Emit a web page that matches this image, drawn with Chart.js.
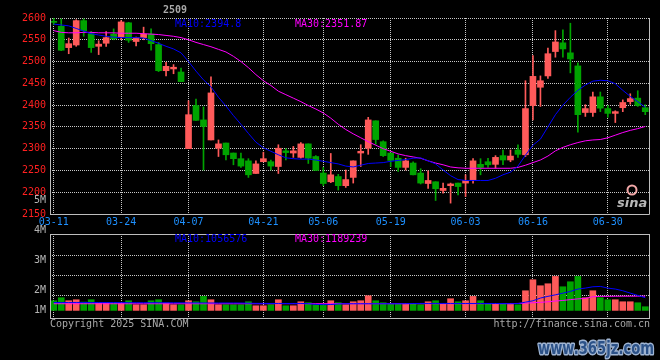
<!DOCTYPE html>
<html>
<head>
<meta charset="utf-8">
<script src="https://cdn.jsdelivr.net/npm/chart.js@4.4.0/dist/chart.umd.min.js"></script>
<style>
  html, body { margin: 0; padding: 0; background: #000; }
  #wrap { position: relative; width: 660px; height: 360px; }
  #wrap canvas { position: absolute; left: 0; top: 0; }
</style>
</head>
<body>
<div id="wrap">
  <canvas id="kChart" width="660" height="360"></canvas>
  <canvas id="volChart" width="660" height="360"></canvas>
</div>
<script>
// trading days 2025-03-11 .. 2025-07-07
const DATES = [
  '03-11','03-12','03-13','03-14','03-17','03-18','03-19','03-20','03-21','03-24',
  '03-25','03-26','03-27','03-28','03-31','04-01','04-02','04-03','04-07','04-08',
  '04-09','04-10','04-11','04-14','04-15','04-16','04-17','04-18','04-21','04-22',
  '04-23','04-24','04-25','04-28','04-29','04-30','05-06','05-07','05-08','05-09',
  '05-12','05-13','05-14','05-15','05-16','05-19','05-20','05-21','05-22','05-23',
  '05-26','05-27','05-28','05-29','05-30','06-03','06-04','06-05','06-06','06-09',
  '06-10','06-11','06-12','06-13','06-16','06-17','06-18','06-19','06-20','06-23',
  '06-24','06-25','06-26','06-27','06-30','07-01','07-02','07-03','07-04','07-07'
];
const SHOWN_DATES = ['03-11','03-24','04-07','04-21','05-06','05-19','06-03','06-16','06-30'];

const OPEN = [
  2592,2581,2532,2538,2594,2564,2535,2542,2563,2555, 2589,2546,2555,2563,2539,2479,2483,2476,2300,2399,
  2366,2320,2301,2313,2290,2277,2272,2243,2270,2270, 2259,2295,2290,2280,2311,2282,2244,2224,2236,2215,
  2234,2290,2301,2364,2316,2290,2278,2257,2267,2244, 2220,2224,2204,2215,2221,2221,2228,2264,2270,2264,
  2284,2274,2297,2286,2399,2441,2467,2523,2543,2520, 2490,2383,2383,2419,2392,2381,2394,2408,2416,2394
];
const HIGH = [
  2600,2598,2554,2596,2598,2569,2548,2569,2575,2594, 2590,2556,2579,2575,2544,2498,2493,2485,2410,2414,
  2396,2465,2320,2313,2290,2290,2277,2272,2292,2274, 2309,2300,2305,2314,2311,2284,2257,2289,2241,2251,
  2272,2309,2372,2364,2318,2290,2286,2278,2270,2254, 2249,2224,2221,2221,2221,2240,2277,2277,2278,2284,
  2297,2297,2309,2456,2514,2467,2531,2571,2573,2588, 2497,2401,2430,2430,2399,2387,2412,2426,2433,2401
];
const LOW = [
  2585,2525,2518,2535,2558,2521,2516,2535,2550,2550, 2544,2536,2550,2526,2477,2467,2472,2454,2300,2365,
  2251,2320,2282,2274,2263,2257,2234,2243,2270,2251, 2243,2274,2280,2278,2266,2250,2215,2222,2205,2211,
  2221,2259,2287,2310,2282,2259,2248,2251,2240,2219, 2209,2181,2198,2175,2194,2190,2221,2240,2257,2255,
  2263,2270,2280,2282,2366,2397,2461,2510,2510,2474, 2338,2374,2374,2385,2372,2360,2385,2402,2397,2378
];
const CLOSE = [
  2590,2526,2541,2594,2571,2532,2540,2555,2552,2591, 2549,2555,2563,2541,2479,2489,2487,2454,2378,2365,
  2351,2428,2311,2286,2277,2260,2240,2265,2277,2260, 2301,2291,2295,2311,2278,2250,2220,2240,2215,2229,
  2272,2294,2366,2321,2284,2273,2257,2272,2240,2221, 2227,2208,2209,2219,2213,2227,2272,2257,2263,2280,
  2274,2283,2287,2392,2466,2456,2518,2545,2529,2506, 2378,2392,2419,2393,2381,2385,2406,2415,2399,2385
];
const MA10 = [
  2586,2584,2582,2576,2570,2564,2561,2558,2556,2555, 2555,2555,2554,2548,2542,2535,2529,2520,2500,2478,
  2458,2442,2418,2398,2376,2356,2335,2315,2302,2294, 2286,2279,2277,2276,2276,2274,2271,2268,2265,2260,
  2258,2262,2266,2267,2268,2271,2273,2275,2278,2279, 2272,2265,2251,2238,2229,2227,2227,2227,2227,2232,
  2240,2246,2260,2285,2308,2322,2350,2378,2400,2418, 2434,2446,2455,2457,2456,2449,2434,2420,2408,2395
];
const MA30 = [
  2571,2567,2566,2566,2567,2567,2566,2566,2566,2565, 2565,2565,2564,2563,2562,2560,2558,2555,2550,2544,
  2539,2534,2528,2522,2512,2500,2486,2470,2456,2445, 2432,2424,2416,2408,2399,2391,2382,2370,2356,2344,
  2334,2325,2316,2308,2300,2294,2288,2284,2281,2278, 2272,2267,2263,2258,2256,2255,2255,2255,2255,2255,
  2255,2255,2257,2262,2268,2274,2283,2295,2303,2309, 2314,2318,2320,2321,2325,2331,2337,2342,2346,2351
];
const VOLUME = [
  806000,1056000,806000,889000,694000,889000,611000,611000,611000,611000,
  806000,472000,472000,806000,889000,611000,472000,472000,806000,722000,
  1167000,889000,472000,472000,472000,472000,722000,389000,389000,472000,
  889000,389000,389000,722000,639000,472000,472000,806000,639000,472000,
  722000,806000,1222000,806000,639000,556000,556000,556000,556000,472000,
  722000,806000,556000,972000,722000,806000,1167000,806000,556000,556000,
  556000,556000,472000,1639000,2556000,2056000,2222000,2833000,1972000,2389000,
  2833000,1056000,1639000,1056000,889000,889000,722000,722000,639000,306000
];
const VOL_MA10 = [
  660000,660000,662000,664000,662000,660000,658000,656000,655000,650000,
  645000,642000,640000,640000,642000,640000,636000,632000,628000,625000,
  622000,620000,620000,618000,618000,615000,600000,590000,585000,580000,
  580000,578000,580000,582000,560000,500000,480000,490000,540000,556000,
  556000,556000,556000,556000,556000,556000,556000,560000,575000,580000,
  582000,582000,580000,580000,578000,578000,578000,578000,578000,575000,
  570000,556000,570000,690000,800000,1030000,1170000,1300000,1440000,1580000,
  1780000,1860000,1970000,2000000,1860000,1780000,1640000,1440000,1250000,1057000
];
const VOL_MA30 = [
  556000,556000,556000,556000,556000,556000,556000,556000,556000,556000,
  556000,556000,556000,556000,556000,556000,556000,556000,556000,556000,
  556000,556000,556000,556000,556000,556000,556000,556000,556000,556000,
  560000,560000,560000,560000,560000,560000,560000,560000,560000,560000,
  560000,560000,560000,560000,560000,560000,560000,560000,560000,560000,
  560000,560000,560000,560000,560000,560000,560000,560000,560000,560000,
  560000,570000,580000,600000,640000,670000,720000,780000,830000,900000,
  960000,1000000,1140000,1170000,1175000,1180000,1185000,1185000,1188000,1189000
];
const VOL_GRID_VALUES = [1260000, 2930000, 4590000];
const VOL_TICK_LABELS = ['5M', '4M', '3M', '2M', '1M'];

const MONO = '"DejaVu Sans Mono", "Liberation Mono", monospace';
const UP = '#ff5a5a';
const DOWN = '#00a400';
const GRID = '#c8c8c8';
const FRAME = '#bdbdbd';
const candleColors = CLOSE.map((c, i) => c >= OPEN[i] ? UP : DOWN);

function dateGrid(ctx) {
  return SHOWN_DATES.includes(DATES[ctx.index]) ? GRID : 'rgba(0,0,0,0)';
}

// frame + texts on the price panel
const kDecor = {
  id: 'kDecor',
  afterDraw(chart) {
    const { ctx, chartArea: a } = chart;
    ctx.save();
    ctx.strokeStyle = FRAME;
    ctx.lineWidth = 1;
    ctx.beginPath();
    ctx.moveTo(a.left + 0.5, a.top);
    ctx.lineTo(a.left + 0.5, a.bottom + 0.5);
    ctx.lineTo(a.right + 0.5, a.bottom + 0.5);
    ctx.lineTo(a.right + 0.5, a.top);
    ctx.stroke();

    ctx.textBaseline = 'alphabetic';
    ctx.font = 'bold 10px ' + MONO;
    ctx.fillStyle = '#a8a8a8';
    ctx.fillText('2509', 163, 13);

    ctx.font = '10px ' + MONO;
    ctx.fillStyle = '#0000ff';
    ctx.fillText('MA10:2394.8', 175, 26.5);
    ctx.fillStyle = '#ff00ff';
    ctx.fillText('MA30:2351.87', 295, 26.5);

    // sina logo
    ctx.strokeStyle = '#f2a8a8';
    ctx.lineWidth = 2;
    ctx.beginPath();
    ctx.arc(632, 190, 4.5, 0, Math.PI * 2);
    ctx.stroke();
    ctx.font = 'italic bold 13px "DejaVu Sans"';
    ctx.fillStyle = '#b8b8b8';
    ctx.fillText('sina', 617, 207);
    ctx.restore();
  }
};

// frame + texts on the volume panel
const volDecor = {
  id: 'volDecor',
  afterDraw(chart) {
    const { ctx, chartArea: a } = chart;
    ctx.save();
    ctx.strokeStyle = FRAME;
    ctx.lineWidth = 1;
    ctx.strokeRect(a.left + 0.5, a.top + 0.5, a.right - a.left, a.bottom - a.top);

    ctx.font = '10px ' + MONO;
    ctx.textAlign = 'right';
    ctx.textBaseline = 'middle';
    ctx.fillStyle = '#b4b4b4';
    const ys = [200.7, 230.3, 260.3, 290.7, 310.8];
    VOL_TICK_LABELS.forEach((t, i) => ctx.fillText(t, 46, ys[i]));

    ctx.textAlign = 'left';
    ctx.textBaseline = 'alphabetic';
    ctx.fillStyle = '#0000ff';
    ctx.fillText('MA10:1056576', 175, 242);
    ctx.fillStyle = '#ff00ff';
    ctx.fillText('MA30:1189239', 295, 242);

    ctx.fillStyle = '#a8a8a8';
    ctx.fillText('Copyright 2025 SINA.COM', 50, 327);
    ctx.textAlign = 'right';
    ctx.fillText('http://finance.sina.com.cn', 650, 327);

    // watermark
    ctx.textAlign = 'left';
    ctx.font = 'bold 17px "DejaVu Sans"';
    ctx.lineJoin = 'round';
    ctx.lineWidth = 3;
    ctx.strokeStyle = '#9fb4d2';
    ctx.strokeText('www.365jz.com', 538, 354, 116);
    ctx.fillStyle = '#2c5288';
    ctx.fillText('www.365jz.com', 538, 354, 116);
    ctx.restore();
  }
};

const xBase = {
  offset: true,
  grid: { offset: false, color: dateGrid, drawTicks: false },
  border: { display: false, dash: [1, 1] }
};

new Chart(document.getElementById('kChart'), {
  type: 'bar',
  data: {
    labels: DATES,
    datasets: [
      { type: 'line', label: 'MA10', data: MA10, borderColor: '#0000ff', borderWidth: 1, pointRadius: 0, order: 0 },
      { type: 'line', label: 'MA30', data: MA30, borderColor: '#ff00ff', borderWidth: 1, pointRadius: 0, order: 0 },
      { label: 'body', data: OPEN.map((o, i) => [o, CLOSE[i]]), backgroundColor: candleColors,
        barThickness: 6, minBarLength: 1, grouped: false, order: 1 },
      { label: 'wick', data: LOW.map((l, i) => [l, HIGH[i]]), backgroundColor: candleColors,
        barThickness: 1, grouped: false, order: 2 }
    ]
  },
  options: {
    responsive: false,
    animation: false,
    layout: { padding: { top: 18, right: 11, bottom: 132, left: 0 } },
    plugins: { legend: { display: false }, tooltip: { enabled: false } },
    scales: {
      x: {
        ...xBase,
        ticks: {
          autoSkip: false, maxRotation: 0, padding: 2, color: '#1e90ff',
          font: { family: MONO, size: 10 },
          callback: (v, i) => SHOWN_DATES.includes(DATES[i]) ? DATES[i] : ''
        },
        afterFit: s => { s.height = 14; }
      },
      y: {
        min: 2150, max: 2600,
        ticks: {
          stepSize: 50, padding: 4, color: '#ff2020', font: { family: MONO, size: 10 },
          callback: v => String(v)
        },
        grid: { color: GRID, drawTicks: false },
        border: { display: false, dash: [1, 1] },
        afterFit: s => { s.width = 50; }
      }
    }
  },
  plugins: [kDecor]
});

new Chart(document.getElementById('volChart'), {
  type: 'bar',
  data: {
    labels: DATES,
    datasets: [
      { type: 'line', label: 'MA10', data: VOL_MA10, borderColor: '#0000ff', borderWidth: 1, pointRadius: 0, order: 0 },
      { type: 'line', label: 'MA30', data: VOL_MA30, borderColor: '#ff00ff', borderWidth: 1, pointRadius: 0, order: 0 },
      { label: 'volume', data: VOLUME, backgroundColor: candleColors, barThickness: 6, order: 1 }
    ]
  },
  options: {
    responsive: false,
    animation: false,
    layout: { padding: { top: 234, right: 11, bottom: 42, left: 0 } },
    plugins: { legend: { display: false }, tooltip: { enabled: false } },
    scales: {
      x: {
        ...xBase,
        ticks: { display: false, autoSkip: false },
        afterFit: s => { s.height = 0; }
      },
      y: {
        min: -633000, max: 6370000,
        afterBuildTicks: s => { s.ticks = VOL_GRID_VALUES.map(v => ({ value: v })); },
        ticks: { display: false },
        grid: { color: GRID, drawTicks: false },
        border: { display: false, dash: [1, 1] },
        afterFit: s => { s.width = 50; }
      }
    }
  },
  plugins: [volDecor]
});
</script>
</body>
</html>
